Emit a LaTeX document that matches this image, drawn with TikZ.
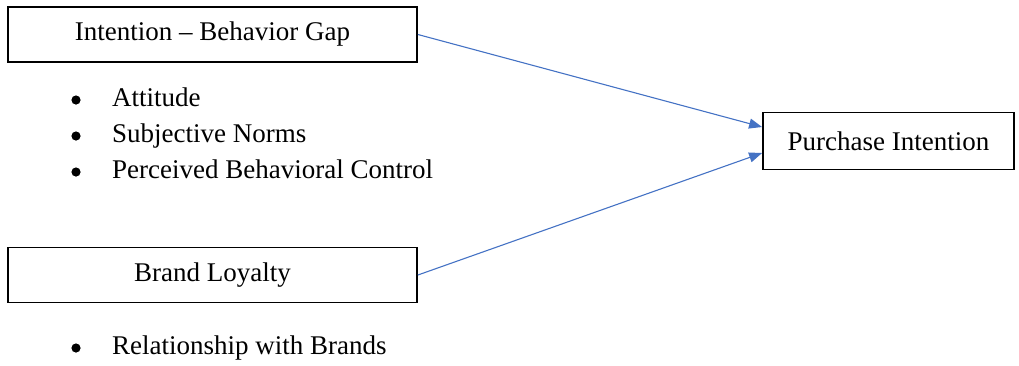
\documentclass[tikz,border=0pt]{standalone}
\usepackage{fontspec}
\setmainfont{Liberation Serif}
\usetikzlibrary{arrows.meta,calc}
\definecolor{ArrowClr}{rgb}{0.267,0.447,0.769}

\begin{document}
\begin{tikzpicture}[x=1pt,y=-1pt,
  every node/.style={font=\fontsize{27}{32}\selectfont,inner sep=0pt},
  factor/.style={draw,line width=1.8pt,minimum height=55pt},
  item/.style={anchor=west,text height=19pt,text depth=6pt},
  link/.style={ArrowClr,line width=1.1pt,-{Triangle[length=13pt,width=10pt]}}]
\useasboundingbox (0,0) rectangle (1019,365);

\node[factor,minimum width=409pt] (gap) at (212.5,34.5) {Intention -- Behavior Gap};
\node[factor,minimum width=409pt] (loyalty) at (212.5,275) {Brand Loyalty};
\node[factor,minimum width=251pt,minimum height=57pt] (intent) at (888.5,141) {Purchase Intention};

% items under each factor, with round bullets
\foreach \txt [count=\i] in {Attitude,Subjective Norms,Perceived Behavioral Control}{
  \node[item] (tpb\i) at (112,64+36*\i) {\txt};
  \fill ($(tpb\i.west)+(-36,0)$) circle (4.6);
}
\node[item] (rel) at (112,348) {Relationship with Brands};
\fill ($(rel.west)+(-36,0)$) circle (4.6);

\draw[link] (gap.east) -- ([yshift=14pt]intent.west);
\draw[link] (loyalty.east) -- ([yshift=-12pt]intent.west);

\end{tikzpicture}
\end{document}
